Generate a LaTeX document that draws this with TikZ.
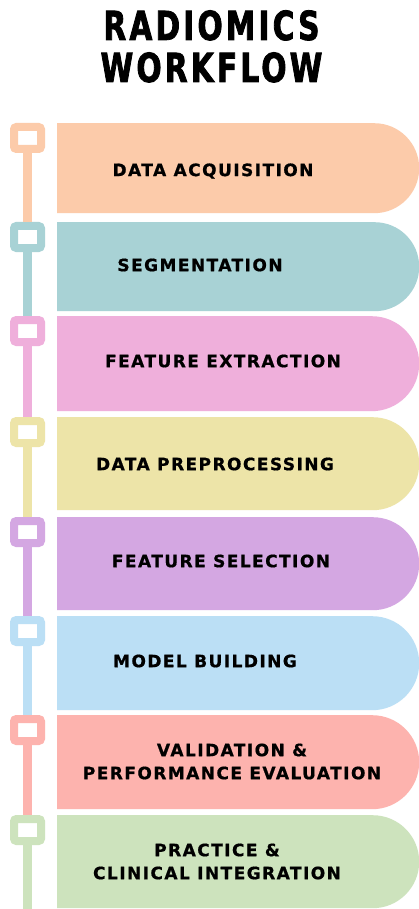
\documentclass[tikz,border=0pt]{standalone}
\usepackage{fontspec}
\usetikzlibrary{shapes.misc}
\newfontfamily\titlefont[FakeStretch=0.74,LetterSpace=8,FakeBold=2]{DejaVu Sans Bold}
\newfontfamily\labelfont[LetterSpace=8.5,FakeBold=0.8]{DejaVu Sans Bold}

\definecolor{cPeach}{HTML}{FCCBAA}
\definecolor{cTeal}{HTML}{A8D2D5}
\definecolor{cPink}{HTML}{EFAFDB}
\definecolor{cSand}{HTML}{EDE4A8}
\definecolor{cLilac}{HTML}{D4A7E2}
\definecolor{cSky}{HTML}{BBDFF5}
\definecolor{cSalmon}{HTML}{FDB3AE}
\definecolor{cSage}{HTML}{CDE3BD}

\tikzset{
  block/.style={rounded rectangle, rounded rectangle left arc=none,
    draw=none, inner sep=0pt, minimum width=362pt, anchor=north west},
  marker/.style={draw=#1, fill=white, line width=8pt, rounded corners=2.5pt,
    minimum width=27pt, minimum height=22pt, inner sep=0pt},
  rail/.style={draw=#1, line width=8.5pt},
  lbl/.style={font=\labelfont\fontsize{17}{23}\selectfont, text=black, align=center, inner sep=0pt},
  ttl/.style={font=\titlefont\fontsize{40}{42}\selectfont, text=black, inner sep=0pt, anchor=base}
}

\begin{document}
\begin{tikzpicture}[x=1pt, y=1pt]
  \fill[white] (0,0) rectangle (419,-909);
  \useasboundingbox (0,0) rectangle (419,-909);

  % title
  \node[ttl] (title1) at (211.5,-40) {RADIOMICS};
  \node[ttl] (title2) at (211.5,-82) {WORKFLOW};

  % step blocks
  \node[block, fill=cPeach,  minimum height=90pt] (b1) at (57,-123) {};
  \node[block, fill=cTeal,   minimum height=89pt] (b2) at (57,-222) {};
  \node[block, fill=cPink,   minimum height=95pt] (b3) at (57,-316) {};
  \node[block, fill=cSand,   minimum height=93pt] (b4) at (57,-417) {};
  \node[block, fill=cLilac,  minimum height=93pt] (b5) at (57,-517) {};
  \node[block, fill=cSky,    minimum height=94pt] (b6) at (57,-616) {};
  \node[block, fill=cSalmon, minimum height=94pt] (b7) at (57,-715) {};
  \node[block, fill=cSage,   minimum height=93pt] (b8) at (57,-815) {};

  % timeline markers
  \node[marker=cPeach]  (s1) at (27.5,-138) {};
  \node[marker=cTeal]   (s2) at (27.5,-237) {};
  \node[marker=cPink]   (s3) at (27.5,-331) {};
  \node[marker=cSand]   (s4) at (27.5,-432) {};
  \node[marker=cLilac]  (s5) at (27.5,-532) {};
  \node[marker=cSky]    (s6) at (27.5,-631) {};
  \node[marker=cSalmon] (s7) at (27.5,-730) {};
  \node[marker=cSage]   (s8) at (27.5,-830) {};
  \coordinate (railend) at (27.5,-909);

  % timeline rails
  \draw[rail=cPeach]  (s1.south) -- (s2.north);
  \draw[rail=cTeal]   (s2.south) -- (s3.north);
  \draw[rail=cPink]   (s3.south) -- (s4.north);
  \draw[rail=cSand]   (s4.south) -- (s5.north);
  \draw[rail=cLilac]  (s5.south) -- (s6.north);
  \draw[rail=cSky]    (s6.south) -- (s7.north);
  \draw[rail=cSalmon] (s7.south) -- (s8.north);
  \draw[rail=cSage]   (s8.south) -- (railend);

  % step labels
  \node[lbl] (t1) at (213,-171) {DATA ACQUISITION};
  \node[lbl] (t2) at (200,-265) {SEGMENTATION};
  \node[lbl] (t3) at (223,-361) {FEATURE EXTRACTION};
  \node[lbl] (t4) at (215,-464) {DATA PREPROCESSING};
  \node[lbl] (t5) at (221,-561) {FEATURE SELECTION};
  \node[lbl] (t6) at (205,-661) {MODEL BUILDING};
  \node[lbl] (t7) at (232,-761.5) {VALIDATION \&\\PERFORMANCE EVALUATION};
  \node[lbl] (t8) at (217,-861.5) {PRACTICE \&\\CLINICAL INTEGRATION};
\end{tikzpicture}
\end{document}
